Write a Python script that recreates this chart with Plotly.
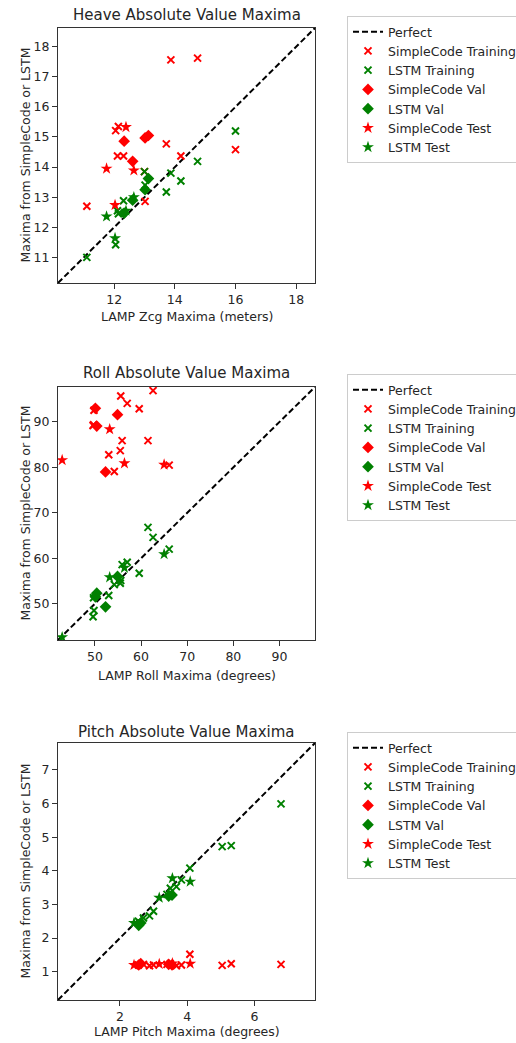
import plotly.graph_objects as go

# ---------------- Heave (meters) ----------------
heave_train_lamp = [11.10, 12.05, 12.11, 12.14, 12.31, 13.00, 13.02, 13.72, 13.87, 14.20, 14.75, 16.00]
heave_train_sc = [12.70, 15.21, 14.37, 15.35, 14.37, 13.85, 12.86, 14.77, 17.56, 14.37, 17.62, 14.58]
heave_train_lstm = [11.00, 11.42, 12.55, 12.45, 12.88, 13.85, 13.40, 13.17, 13.80, 13.54, 14.19, 15.20]
heave_val_lamp = [12.33, 12.61, 13.02, 13.13]
heave_val_sc = [14.86, 14.19, 14.97, 15.05]
heave_val_lstm = [12.47, 12.90, 13.25, 13.62]
heave_test_lamp = [11.75, 12.03, 12.39, 12.65]
heave_test_sc = [13.95, 12.74, 15.33, 13.89]
heave_test_lstm = [12.36, 11.64, 12.55, 13.00]
heave_perfect = [10.15, 18.62]

# ---------------- Roll (degrees) ----------------
roll_train_lamp = [49.6, 49.8, 49.7, 53.0, 54.2, 55.5, 55.6, 55.9, 57.0, 59.6, 61.5, 62.6, 66.1]
roll_train_sc = [89.2, 92.6, 89.4, 82.8, 79.1, 83.7, 95.7, 85.9, 94.1, 92.9, 85.9, 96.9, 80.5]
roll_train_lstm = [47.1, 48.5, 51.3, 51.8, 54.2, 54.5, 55.1, 58.6, 59.1, 56.7, 66.8, 64.6, 62.0]
roll_val_lamp = [50.1, 50.4, 52.3, 54.9]
roll_val_sc = [93.0, 89.1, 79.0, 91.6]
roll_val_lstm = [51.5, 52.3, 49.3, 56.0]
roll_test_lamp = [42.9, 53.2, 56.4, 65.0]
roll_test_sc = [81.6, 88.4, 80.9, 80.6]
roll_test_lstm = [42.6, 55.8, 57.9, 60.9]
roll_perfect = [42.0, 97.7]

# ---------------- Pitch (degrees) ----------------
pitch_train_lamp = [2.55, 2.70, 2.88, 3.00, 3.40, 3.50, 3.68, 3.83, 4.08, 5.04, 5.31, 6.79]
pitch_train_sc = [1.20, 1.22, 1.18, 1.20, 1.22, 1.24, 1.18, 1.20, 1.52, 1.19, 1.24, 1.22]
pitch_train_lstm = [2.50, 2.60, 2.66, 2.80, 3.30, 3.48, 3.53, 3.73, 4.08, 4.72, 4.75, 5.99]
pitch_val_lamp = [2.56, 2.62, 3.45, 3.55]
pitch_val_sc = [1.20, 1.24, 1.22, 1.20]
pitch_val_lstm = [2.38, 2.45, 3.25, 3.28]
pitch_test_lamp = [2.42, 3.17, 3.56, 4.09]
pitch_test_sc = [1.20, 1.23, 1.25, 1.24]
pitch_test_lstm = [2.45, 3.20, 3.78, 3.68]
pitch_perfect = [0.16, 7.80]

panels = [
    dict(title="Heave Absolute Value Maxima", xlabel="LAMP Zcg Maxima (meters)",
         train=(heave_train_lamp, heave_train_sc, heave_train_lstm),
         val=(heave_val_lamp, heave_val_sc, heave_val_lstm),
         test=(heave_test_lamp, heave_test_sc, heave_test_lstm),
         perfect=heave_perfect, xticks=[12, 14, 16, 18], yticks=[11, 12, 13, 14, 15, 16, 17, 18],
         top=28, bottom=283, legend_top=16, title_y=15, xlabel_y=316),
    dict(title="Roll Absolute Value Maxima", xlabel="LAMP Roll Maxima (degrees)",
         train=(roll_train_lamp, roll_train_sc, roll_train_lstm),
         val=(roll_val_lamp, roll_val_sc, roll_val_lstm),
         test=(roll_test_lamp, roll_test_sc, roll_test_lstm),
         perfect=roll_perfect, xticks=[50, 60, 70, 80, 90], yticks=[50, 60, 70, 80, 90],
         top=387, bottom=640, legend_top=374, title_y=373, xlabel_y=675),
    dict(title="Pitch Absolute Value Maxima", xlabel="LAMP Pitch Maxima (degrees)",
         train=(pitch_train_lamp, pitch_train_sc, pitch_train_lstm),
         val=(pitch_val_lamp, pitch_val_sc, pitch_val_lstm),
         test=(pitch_test_lamp, pitch_test_sc, pitch_test_lstm),
         perfect=pitch_perfect, xticks=[2, 4, 6], yticks=[1, 2, 3, 4, 5, 6, 7],
         top=743, bottom=1000, legend_top=732, title_y=732, xlabel_y=1031),
]

W, H = 516, 1043
LEFT, RIGHT = 58, 315
RED, GREEN = "#ff0000", "#008000"
FONT = "DejaVu Sans"
TXT = "#262626"

fig = go.Figure()
layout = dict(
    width=W, height=H,
    margin=dict(l=0, r=0, t=0, b=0, autoexpand=False),
    paper_bgcolor="white", plot_bgcolor="white",
    font=dict(family=FONT, size=12.5, color=TXT),
    annotations=[],
)

for i, p in enumerate(panels):
    n = "" if i == 0 else str(i + 1)
    xa, ya = "x" + n, "y" + n
    leg = "legend" + n

    def add(x, y, name, color, symbol, size, lw=0):
        marker = dict(color=color, symbol=symbol, size=size)
        if lw:
            marker["line"] = dict(color=color, width=lw)
        else:
            marker["line"] = dict(width=0)
        fig.add_trace(go.Scatter(x=x, y=y, mode="markers", name=name, marker=marker,
                                 xaxis=xa, yaxis=ya, legend=leg))

    fig.add_trace(go.Scatter(x=p["perfect"], y=p["perfect"], mode="lines", name="Perfect",
                             line=dict(color="black", dash="6px,3px", width=2),
                             xaxis=xa, yaxis=ya, legend=leg))
    lamp, sc, lstm = p["train"]
    add(lamp, sc, "SimpleCode Training", RED, "x-thin", 7, 2)
    add(lamp, lstm, "LSTM Training", GREEN, "x-thin", 7, 2)
    lamp, sc, lstm = p["val"]
    add(lamp, sc, "SimpleCode Val", RED, "diamond", 9)
    add(lamp, lstm, "LSTM Val", GREEN, "diamond", 9)
    lamp, sc, lstm = p["test"]
    add(lamp, sc, "SimpleCode Test", RED, "star", 9)
    add(lamp, lstm, "LSTM Test", GREEN, "star", 9)

    ydom = [1 - p["bottom"] / H, 1 - p["top"] / H]
    axis_common = dict(showgrid=False, zeroline=False, showline=True, mirror=True,
                       linecolor="#333333", linewidth=1, ticks="outside", ticklen=5,
                       tickwidth=1, tickcolor="#333333",
                       tickfont=dict(family=FONT, size=12.5, color=TXT),
                       range=p["perfect"])
    layout["xaxis" + n] = dict(axis_common, domain=[LEFT / W, RIGHT / W], anchor=ya,
                               tickvals=p["xticks"])
    layout["yaxis" + n] = dict(axis_common, domain=ydom, anchor=xa, tickvals=p["yticks"])
    layout[leg] = dict(x=347 / W, y=1 - p["legend_top"] / H, xanchor="left", yanchor="top",
                       bgcolor="white", bordercolor="#cccccc", borderwidth=1,
                       font=dict(family=FONT, size=12.5, color=TXT), tracegroupgap=0)

    cx = (LEFT + RIGHT) / 2
    layout["annotations"] += [
        dict(text=p["title"], x=cx / W, y=1 - p["title_y"] / H, xref="paper", yref="paper",
             xanchor="center", yanchor="middle", showarrow=False,
             font=dict(family=FONT, size=15, color=TXT)),
        dict(text=p["xlabel"], x=cx / W, y=1 - p["xlabel_y"] / H, xref="paper", yref="paper",
             xanchor="center", yanchor="middle", showarrow=False,
             font=dict(family=FONT, size=12.5, color=TXT)),
        dict(text="Maxima from SimpleCode or LSTM", x=25 / W,
             y=1 - (p["top"] + p["bottom"]) / 2 / H, xref="paper", yref="paper",
             xanchor="center", yanchor="middle", textangle=-90, showarrow=False,
             font=dict(family=FONT, size=12.5, color=TXT)),
    ]

fig.update_layout(**layout)
fig.write_html("out.html")
